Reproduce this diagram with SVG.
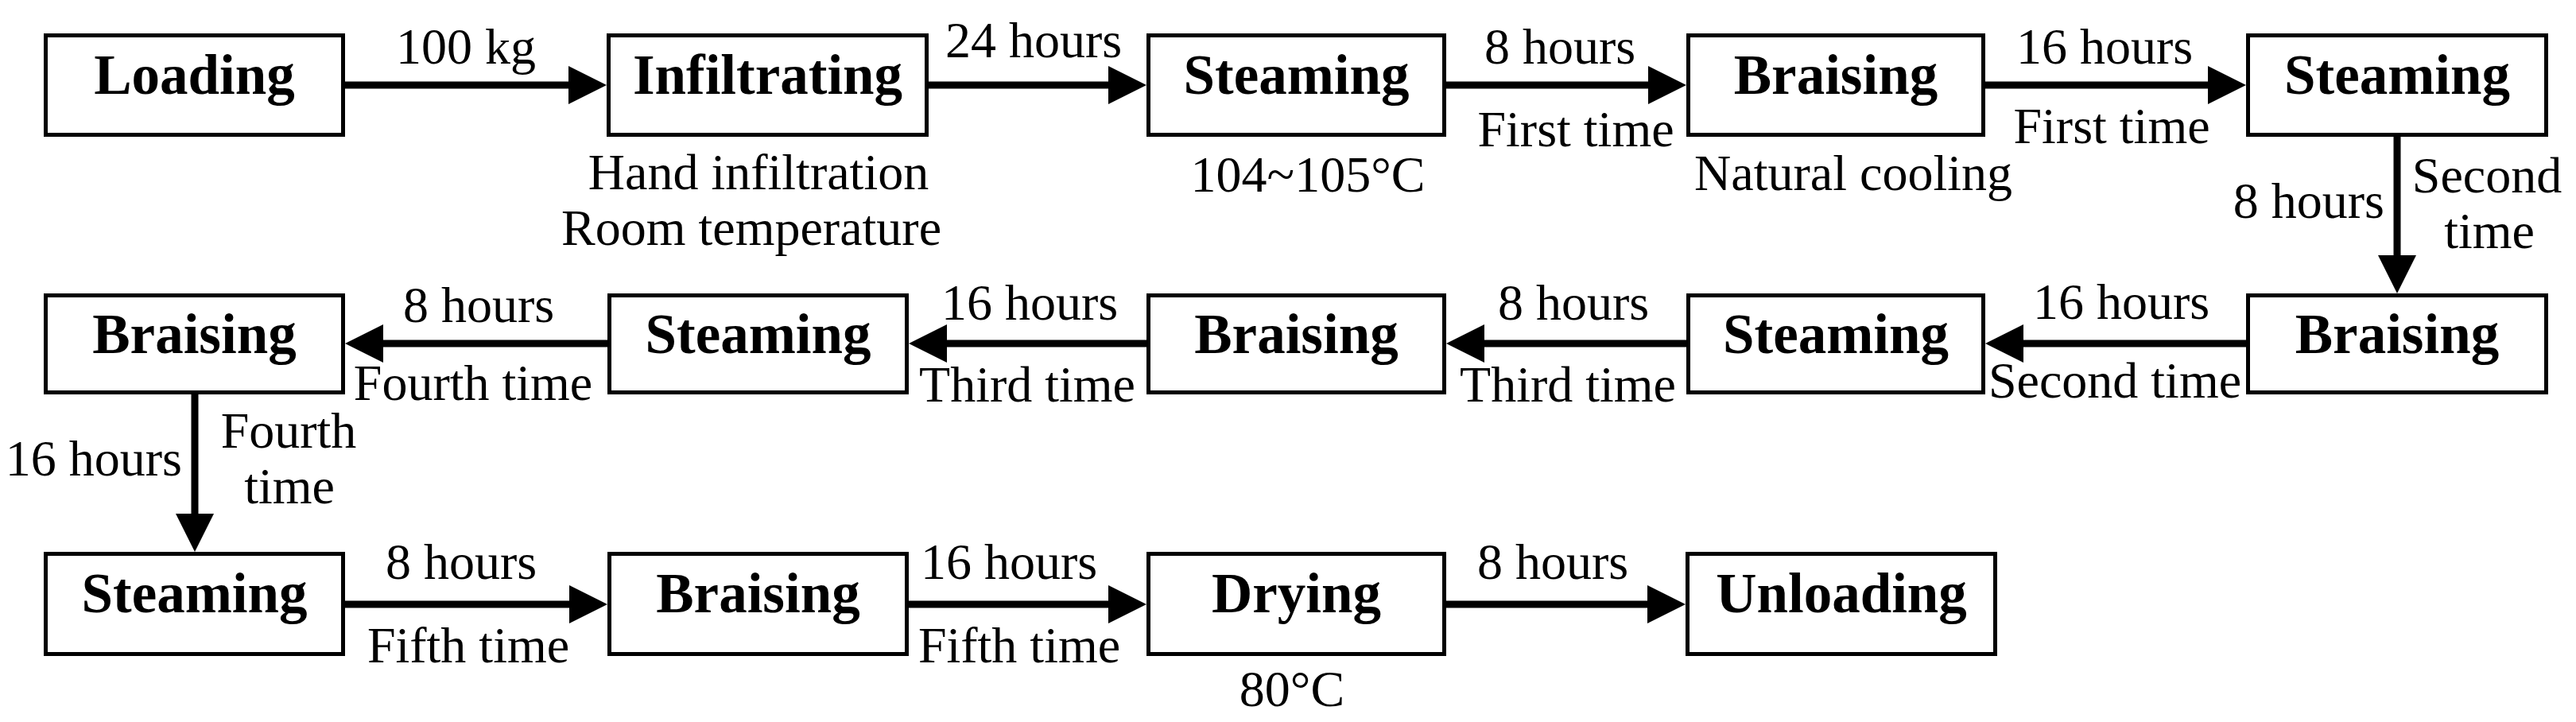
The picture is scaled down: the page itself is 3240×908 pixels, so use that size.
<svg xmlns="http://www.w3.org/2000/svg" width="3240" height="908" viewBox="0 0 3240 908">
<defs>
<style>
.box{fill:#fff;stroke:#000;stroke-width:5}
.nl{font-family:"Liberation Serif","Times New Roman",serif;font-weight:bold;font-size:71px;text-anchor:middle;fill:#000}
.el{font-family:"Liberation Serif","Times New Roman",serif;font-size:64px;fill:#000}
.m{text-anchor:middle}
.e{text-anchor:end}
.cn{stroke:#000;stroke-width:9;fill:none;marker-end:url(#ah)}
</style>
<marker id="ah" markerUnits="userSpaceOnUse" markerWidth="48" markerHeight="48" refX="8" refY="24" orient="auto">
<path d="M0,0 L48,24 L0,48 Z" fill="#000"/>
</marker>
</defs>
<rect width="3240" height="908" fill="#fff"/>
<g id="connectors">
<line class="cn" x1="433" y1="107" x2="723" y2="107"/>
<line class="cn" x1="1168" y1="107" x2="1402" y2="107"/>
<line class="cn" x1="1819" y1="107" x2="2081" y2="107"/>
<line class="cn" x1="2497" y1="107" x2="2785" y2="107"/>
<line class="cn" x1="3015" y1="172" x2="3015" y2="329"/>
<line class="cn" x1="2825" y1="432" x2="2537" y2="432"/>
<line class="cn" x1="2121" y1="432" x2="1859" y2="432"/>
<line class="cn" x1="1442" y1="432" x2="1183" y2="432"/>
<line class="cn" x1="764" y1="432" x2="474" y2="432"/>
<line class="cn" x1="245" y1="496" x2="245" y2="654"/>
<line class="cn" x1="434" y1="760" x2="724" y2="760"/>
<line class="cn" x1="1143" y1="760" x2="1402" y2="760"/>
<line class="cn" x1="1819" y1="760" x2="2080" y2="760"/>
</g>
<g id="edge-labels">
<text class="el m" x="586" y="80">100 kg</text>
<text class="el m" x="1300" y="72">24 hours</text>
<text class="el m" x="1962" y="80">8 hours</text>
<text class="el m" x="1982" y="184">First time</text>
<text class="el m" x="2647" y="80">16 hours</text>
<text class="el m" x="2656" y="180">First time</text>
<text class="el e" x="2999" y="274">8 hours</text>
<text class="el m" x="3128" y="242">Second</text>
<text class="el m" x="3131" y="312">time</text>
<text class="el m" x="2668" y="401">16 hours</text>
<text class="el m" x="2660" y="500">Second time</text>
<text class="el m" x="1979" y="402">8 hours</text>
<text class="el m" x="1972" y="505">Third time</text>
<text class="el m" x="1295" y="402">16 hours</text>
<text class="el m" x="1292" y="505">Third time</text>
<text class="el m" x="602" y="405">8 hours</text>
<text class="el m" x="595" y="503">Fourth time</text>
<text class="el e" x="229" y="598">16 hours</text>
<text class="el m" x="363" y="563">Fourth</text>
<text class="el m" x="364" y="633">time</text>
<text class="el m" x="580" y="728">8 hours</text>
<text class="el m" x="589" y="833">Fifth time</text>
<text class="el m" x="1269" y="728">16 hours</text>
<text class="el m" x="1282" y="833">Fifth time</text>
<text class="el m" x="1953" y="728">8 hours</text>
</g>
<g id="n-loading"><rect class="box" x="57.5" y="44.5" width="374" height="125"/><text class="nl" x="244.5" y="118">Loading</text></g>
<g id="n-infiltrating"><rect class="box" x="765.5" y="44.5" width="400" height="125"/><text class="nl" x="965.5" y="118">Infiltrating</text>
<text class="el m" x="954" y="238">Hand infiltration</text><text class="el m" x="945" y="308">Room temperature</text></g>
<g id="n-steaming1"><rect class="box" x="1444.5" y="44.5" width="372" height="125"/><text class="nl" x="1630.5" y="118">Steaming</text>
<text class="el m" x="1645" y="241">104~105°C</text></g>
<g id="n-braising1"><rect class="box" x="2123.5" y="44.5" width="371" height="125"/><text class="nl" x="2309" y="118">Braising</text>
<text class="el m" x="2331" y="239">Natural cooling</text></g>
<g id="n-steaming2"><rect class="box" x="2827.5" y="44.5" width="375" height="125"/><text class="nl" x="3015" y="118">Steaming</text></g>
<g id="n-braising2"><rect class="box" x="2827.5" y="371.5" width="375" height="122"/><text class="nl" x="3015" y="444">Braising</text></g>
<g id="n-steaming3"><rect class="box" x="2123.5" y="371.5" width="371" height="122"/><text class="nl" x="2309" y="444">Steaming</text></g>
<g id="n-braising3"><rect class="box" x="1444.5" y="371.5" width="372" height="122"/><text class="nl" x="1630.5" y="444">Braising</text></g>
<g id="n-steaming4"><rect class="box" x="766.5" y="371.5" width="374" height="122"/><text class="nl" x="953.5" y="444">Steaming</text></g>
<g id="n-braising4"><rect class="box" x="57.5" y="371.5" width="374" height="122"/><text class="nl" x="244.5" y="444">Braising</text></g>
<g id="n-steaming5"><rect class="box" x="57.5" y="696.5" width="374" height="126"/><text class="nl" x="244.5" y="770">Steaming</text></g>
<g id="n-braising5"><rect class="box" x="766.5" y="696.5" width="374" height="126"/><text class="nl" x="953.5" y="770">Braising</text></g>
<g id="n-drying"><rect class="box" x="1444.5" y="696.5" width="372" height="126"/><text class="nl" x="1630.5" y="770">Drying</text>
<text class="el m" x="1625" y="888">80°C</text></g>
<g id="n-unloading"><rect class="box" x="2122.5" y="696.5" width="387" height="126"/><text class="nl" x="2316" y="770">Unloading</text></g>
</svg>
